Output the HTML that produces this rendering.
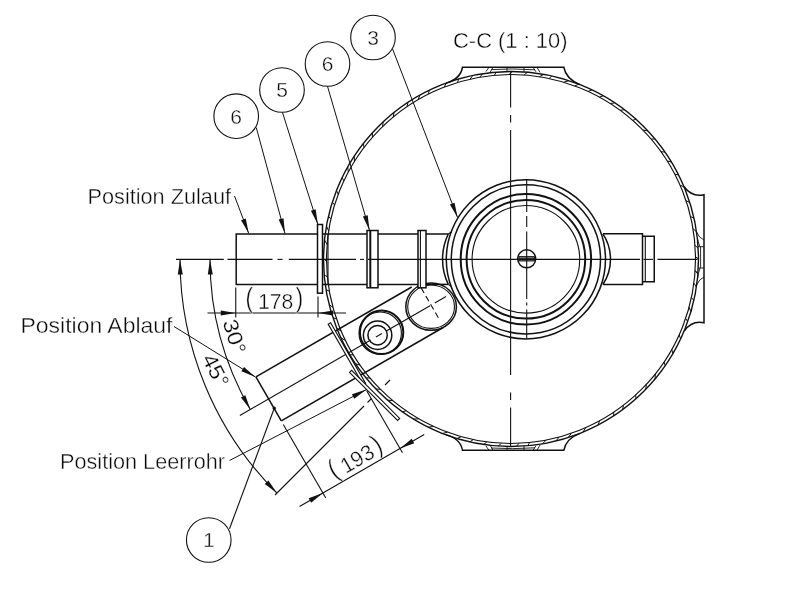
<!DOCTYPE html>
<html lang="de"><head><meta charset="utf-8"><title>C-C (1 : 10)</title>
<style>
html,body{margin:0;padding:0;background:#fff;}
body{width:800px;height:600px;overflow:hidden;}
svg{display:block;will-change:transform;}
svg text{font-family:"Liberation Sans","DejaVu Sans",sans-serif;fill:#0a0a0a;stroke:#fff;stroke-width:0.38px;paint-order:fill stroke;}
</style></head><body>
<svg width="800" height="600" viewBox="0 0 800 600" fill="none" stroke="#111" stroke-linecap="butt">
<rect x="0" y="0" width="800" height="600" fill="#fff" stroke="none"/>
<line x1="695.14" y1="270.57" x2="697.89" y2="274.14" stroke-width="1.0" />
<line x1="693.91" y1="283.15" x2="696.39" y2="287.05" stroke-width="1.0" />
<line x1="691.41" y1="297.62" x2="693.89" y2="300.34" stroke-width="1.0" />
<line x1="689.12" y1="307.12" x2="690.88" y2="311.9" stroke-width="1.0" />
<line x1="685.69" y1="318.35" x2="687.69" y2="321.75" stroke-width="1.0" />
<line x1="679.21" y1="334.79" x2="680.61" y2="338.92" stroke-width="1.0" />
<line x1="671.82" y1="349.42" x2="672.84" y2="353.67" stroke-width="1.0" />
<line x1="664.06" y1="362.02" x2="665.22" y2="365.64" stroke-width="1.0" />
<line x1="655.33" y1="373.93" x2="655" y2="379.08" stroke-width="1.0" />
<line x1="646.29" y1="384.45" x2="645.8" y2="389.32" stroke-width="1.0" />
<line x1="635.61" y1="395.06" x2="636.05" y2="398.71" stroke-width="1.0" />
<line x1="623.54" y1="405.2" x2="622.57" y2="409.69" stroke-width="1.0" />
<line x1="613.73" y1="412.26" x2="613.69" y2="415.88" stroke-width="1.0" />
<line x1="599.52" y1="420.88" x2="598.14" y2="425.02" stroke-width="1.0" />
<line x1="585.67" y1="427.71" x2="582.97" y2="432.14" stroke-width="1.0" />
<line x1="571.34" y1="433.36" x2="568.17" y2="437.57" stroke-width="1.0" />
<line x1="559.07" y1="437.13" x2="555.92" y2="441.04" stroke-width="1.0" />
<line x1="546.17" y1="440.12" x2="542.4" y2="443.85" stroke-width="1.0" />
<line x1="529.62" y1="442.56" x2="527.71" y2="445.75" stroke-width="1.0" />
<line x1="518.89" y1="443.33" x2="516.49" y2="446.42" stroke-width="1.0" />
<line x1="501.47" y1="443.25" x2="498.21" y2="446.06" stroke-width="1.0" />
<line x1="486.83" y1="441.91" x2="483.71" y2="444.5" stroke-width="1.0" />
<line x1="473.28" y1="439.6" x2="469.76" y2="441.91" stroke-width="1.0" />
<line x1="461.16" y1="436.64" x2="456.99" y2="438.55" stroke-width="1.0" />
<line x1="447.49" y1="432.22" x2="442.41" y2="433.5" stroke-width="1.0" />
<line x1="433.5" y1="426.43" x2="428.27" y2="427.26" stroke-width="1.0" />
<line x1="418.81" y1="418.81" x2="413.39" y2="419.09" stroke-width="1.0" />
<line x1="406.08" y1="410.76" x2="402.41" y2="411.86" stroke-width="1.0" />
<line x1="392.87" y1="400.73" x2="387.54" y2="400.12" stroke-width="1.0" />
<line x1="380.38" y1="389.3" x2="375.84" y2="388.95" stroke-width="1.0" />
<line x1="369.96" y1="377.95" x2="366.06" y2="377.95" stroke-width="1.0" />
<line x1="359.99" y1="365" x2="355.57" y2="363.86" stroke-width="1.0" />
<line x1="353.44" y1="355" x2="349.78" y2="354.73" stroke-width="1.0" />
<line x1="345.48" y1="340.51" x2="340.83" y2="337.72" stroke-width="1.0" />
<line x1="341.16" y1="331.08" x2="336.86" y2="328.5" stroke-width="1.0" />
<line x1="336.52" y1="318.98" x2="332.93" y2="317.72" stroke-width="1.0" />
<line x1="332.98" y1="307.48" x2="329.09" y2="304.42" stroke-width="1.0" />
<line x1="329.33" y1="291.21" x2="326.03" y2="289.68" stroke-width="1.0" />
<line x1="327.35" y1="276.74" x2="324.18" y2="274.95" stroke-width="1.0" />
<line x1="326.51" y1="261.32" x2="323.5" y2="258.53" stroke-width="1.0" />
<line x1="327.06" y1="244.58" x2="324.48" y2="239.84" stroke-width="1.0" />
<line x1="328.64" y1="230.95" x2="326.43" y2="225.98" stroke-width="1.0" />
<line x1="330.89" y1="219.01" x2="328.44" y2="216.25" stroke-width="1.0" />
<line x1="334.58" y1="205" x2="332.32" y2="202.17" stroke-width="1.0" />
<line x1="338.2" y1="194.35" x2="336.47" y2="190.47" stroke-width="1.0" />
<line x1="343.84" y1="180.92" x2="342.14" y2="177.5" stroke-width="1.0" />
<line x1="348.31" y1="171.97" x2="347.71" y2="166.85" stroke-width="1.0" />
<line x1="354.41" y1="161.42" x2="354.28" y2="156.07" stroke-width="1.0" />
<line x1="363.98" y1="147.53" x2="363.39" y2="143.38" stroke-width="1.0" />
<line x1="372.44" y1="137.18" x2="372.4" y2="132.72" stroke-width="1.0" />
<line x1="382.68" y1="126.44" x2="383.14" y2="121.85" stroke-width="1.0" />
<line x1="393.22" y1="116.99" x2="394.09" y2="112.41" stroke-width="1.0" />
<line x1="406.98" y1="106.62" x2="408.02" y2="102.31" stroke-width="1.0" />
<line x1="418.08" y1="99.61" x2="419.91" y2="95.11" stroke-width="1.0" />
<line x1="428.25" y1="94.1" x2="429.38" y2="90.2" stroke-width="1.0" />
<line x1="444.27" y1="86.99" x2="446.3" y2="83.02" stroke-width="1.0" />
<line x1="457.58" y1="82.4" x2="458.62" y2="78.97" stroke-width="1.0" />
<line x1="470.14" y1="79.08" x2="472.88" y2="75.42" stroke-width="1.0" />
<line x1="479.78" y1="77.16" x2="482.8" y2="73.63" stroke-width="1.0" />
<line x1="494.4" y1="75.25" x2="496.24" y2="72.08" stroke-width="1.0" />
<line x1="509.09" y1="74.51" x2="512.24" y2="71.5" stroke-width="1.0" />
<line x1="524.2" y1="74.97" x2="527.3" y2="72.21" stroke-width="1.0" />
<line x1="539.45" y1="76.71" x2="543.76" y2="74.38" stroke-width="1.0" />
<line x1="549.13" y1="78.48" x2="551.82" y2="76" stroke-width="1.0" />
<line x1="563.76" y1="82.2" x2="568.9" y2="80.66" stroke-width="1.0" />
<line x1="574.84" y1="85.9" x2="578.83" y2="84.2" stroke-width="1.0" />
<line x1="588.17" y1="91.42" x2="591.96" y2="89.88" stroke-width="1.0" />
<line x1="599.42" y1="97.07" x2="603.29" y2="95.79" stroke-width="1.0" />
<line x1="610.29" y1="103.5" x2="614.86" y2="102.89" stroke-width="1.0" />
<line x1="620.25" y1="110.33" x2="624.39" y2="109.67" stroke-width="1.0" />
<line x1="632.63" y1="120.27" x2="636.13" y2="119.36" stroke-width="1.0" />
<line x1="642.96" y1="130.06" x2="647.8" y2="130.77" stroke-width="1.0" />
<line x1="651.17" y1="139.03" x2="655.09" y2="139.02" stroke-width="1.0" />
<line x1="661.11" y1="151.72" x2="665.04" y2="152.1" stroke-width="1.0" />
<line x1="667.32" y1="161" x2="671.49" y2="162.05" stroke-width="1.0" />
<line x1="674.89" y1="174.27" x2="678.57" y2="174.88" stroke-width="1.0" />
<line x1="680.15" y1="185.33" x2="684.02" y2="186.74" stroke-width="1.0" />
<line x1="686.02" y1="200.61" x2="689.82" y2="202.62" stroke-width="1.0" />
<line x1="690.54" y1="216.52" x2="694" y2="218.18" stroke-width="1.0" />
<line x1="692.99" y1="228.65" x2="696.51" y2="231.78" stroke-width="1.0" />
<line x1="694.99" y1="245.31" x2="698.19" y2="248.22" stroke-width="1.0" />
<line x1="695.49" y1="256.77" x2="698.5" y2="259.01" stroke-width="1.0" />
<line x1="695.13" y1="270.68" x2="697.95" y2="273.33" stroke-width="1.0" />
<path d="M446,83.13 Q460.5,79 462.5,67.25 L563.8,67.25 Q566,79 580,84.66" stroke-width="1.5" />
<line x1="489" y1="67.25" x2="486" y2="71.5" stroke-width="0.9" />
<line x1="493" y1="67.25" x2="490" y2="72.5" stroke-width="0.9" />
<line x1="537" y1="67.25" x2="540" y2="72.5" stroke-width="0.9" />
<line x1="533" y1="67.25" x2="536" y2="71.8" stroke-width="0.9" />
<line x1="507" y1="67.25" x2="507" y2="71.6" stroke-width="0.9" />
<line x1="524" y1="67.25" x2="524" y2="71.8" stroke-width="0.9" />
<path d="M491,69.6 Q512,68.2 535,69.8" stroke-width="0.9" />
<path d="M446,434.87 Q460.5,438.5 462.5,450.3 L563.8,450.3 Q566,438.5 580,433.34" stroke-width="1.5" />
<line x1="489" y1="450.3" x2="486" y2="446" stroke-width="0.9" />
<line x1="493" y1="450.3" x2="490" y2="445" stroke-width="0.9" />
<line x1="537" y1="450.3" x2="540" y2="445" stroke-width="0.9" />
<line x1="533" y1="450.3" x2="536" y2="445.7" stroke-width="0.9" />
<line x1="507" y1="450.3" x2="507" y2="446" stroke-width="0.9" />
<line x1="524" y1="450.3" x2="524" y2="445.8" stroke-width="0.9" />
<path d="M491,448 Q512,449.4 535,447.8" stroke-width="0.9" />
<path d="M683.92,186.5 Q692,197.5 704,194.7 L704,322.7 Q692,320 684.12,331" stroke-width="1.5" />
<path d="M698,246.7 L704,246.7 M698,268 L704,268 M700.6,246.7 L700.6,268" stroke-width="0.9" />
<path d="M696.55,232 Q699,238 704,240 M696.69,285 Q699,279 704,277" stroke-width="0.9" />
<path d="M697.32,238 Q698,242 700,246.7 M697.43,279 Q698,274 700,268" stroke-width="0.9" />
<circle cx="525.9" cy="259.3" r="79.6" stroke-width="1.5" />
<circle cx="525.9" cy="259.3" r="74.6" stroke-width="1.5" />
<circle cx="525.9" cy="259.3" r="65.2" stroke-width="2.0" />
<circle cx="525.9" cy="259.3" r="59.3" stroke-width="2.0" />
<circle cx="525.9" cy="259.3" r="53.8" stroke-width="1.1" />
<path d="M448.3,234 A58,58 0 0 0 448.3,284.4" stroke-width="1.5" />
<path d="M602.9,233.9 A46,46 0 0 1 602.9,284.5" stroke-width="1.5" />
<circle cx="526.7" cy="258.8" r="9" stroke-width="1.5" />
<rect x="519" y="256.6" width="15.4" height="4.4" fill="#777" stroke="#111" stroke-width="0.9"/>
<line x1="519" y1="258.8" x2="534.4" y2="258.8" stroke-width="0.8" />
<path d="M317.5,234.0 L236.2,234.0 L236.2,284.4 L317.5,284.4" stroke-width="1.5" />
<line x1="322.5" y1="234" x2="367" y2="234" stroke-width="1.5" />
<line x1="322.5" y1="284.4" x2="367" y2="284.4" stroke-width="1.5" />
<line x1="378" y1="234" x2="418" y2="234" stroke-width="1.5" />
<line x1="378" y1="284.4" x2="418" y2="284.4" stroke-width="1.5" />
<line x1="426" y1="234" x2="448.3" y2="234" stroke-width="1.5" />
<line x1="426" y1="284.4" x2="448.3" y2="284.4" stroke-width="1.5" />
<line x1="448.3" y1="234" x2="451.6" y2="231.8" stroke-width="1.1" />
<line x1="448.3" y1="284.4" x2="451.6" y2="286.8" stroke-width="1.1" />
<line x1="328" y1="234" x2="328" y2="284.4" stroke-width="1.1" />
<rect x="317.5" y="224.5" width="5" height="68.7" fill="#fff" stroke="#111" stroke-width="1.5"/>
<path d="M602.9,233.75 L642.5,233.75 L642.5,284.5 L602.9,284.5" stroke-width="1.5" />
<path d="M642.5,236.25 L654.25,236.25 L654.25,281.75 L642.5,281.75" stroke-width="1.5" />
<line x1="645.3" y1="236.25" x2="645.3" y2="281.75" stroke-width="1.1" />
<line x1="255.9" y1="376.95" x2="281.3" y2="420.95" stroke-width="1.5" />
<line x1="255.9" y1="376.95" x2="411.7" y2="287" stroke-width="1.5" />
<line x1="281.3" y1="420.95" x2="443.16" y2="327.5" stroke-width="1.5" />
<line x1="239.93" y1="415.5" x2="370.7" y2="340" stroke-width="1.1" />
<line x1="375.9" y1="337" x2="381.96" y2="333.5" stroke-width="1.1" />
<line x1="386.29" y1="331" x2="430.03" y2="305.75" stroke-width="1.1" />
<line x1="434.79" y1="303" x2="446.05" y2="296.5" stroke-width="1.1" />
<ellipse cx="431.1" cy="306.7" rx="25.3" ry="23.6" stroke-width="1.5"/>
<ellipse cx="431.1" cy="306.7" rx="23.4" ry="21.7" stroke-width="1.1"/>
<line x1="421.1" y1="287.88" x2="439.6" y2="319.92" stroke-width="1.1" stroke-dasharray="6 3.5"/>
<rect x="367" y="230.5" width="11" height="57.3" fill="#fff" stroke="#111" stroke-width="1.5"/>
<line x1="370.3" y1="230.5" x2="370.3" y2="287.8" stroke-width="2.0" />
<rect x="418" y="230.5" width="8" height="57.3" fill="#fff" stroke="#111" stroke-width="1.5"/>
<line x1="420.4" y1="230.5" x2="420.4" y2="287.8" stroke-width="1.1" />
<circle cx="381.6" cy="332.3" r="21.7" stroke-width="2.0" />
<circle cx="380.2" cy="333.2" r="21.2" stroke-width="1.1" />
<circle cx="377.6" cy="335.2" r="14.2" stroke-width="1.5" />
<circle cx="377.6" cy="335.2" r="9.7" stroke-width="1.5" />
<polygon points="328.18,324.14 363.18,384.76 365.6,383.36 330.6,322.74" fill="#fff" stroke="#111" stroke-width="1.1"/>
<polygon points="349.5,372.42 397.58,420.5 399.7,418.38 351.62,370.3" fill="#fff" stroke="#111" stroke-width="1.1"/>
<circle cx="511" cy="259" r="187.5" stroke-width="1.4" />
<circle cx="511" cy="259" r="184.5" stroke-width="1.15" />
<line x1="176" y1="259.4" x2="223.8" y2="259.4" stroke-width="1.1" />
<line x1="227.5" y1="259.4" x2="272.5" y2="259.4" stroke-width="1.1" />
<line x1="277.5" y1="259.4" x2="282.5" y2="259.4" stroke-width="1.1" />
<line x1="288.8" y1="259.4" x2="356" y2="259.4" stroke-width="1.1" />
<line x1="360" y1="259.4" x2="364" y2="259.4" stroke-width="1.1" />
<line x1="368" y1="259.4" x2="640" y2="259.4" stroke-width="1.1" />
<line x1="643.5" y1="259.4" x2="653" y2="259.4" stroke-width="1.1" />
<line x1="657.5" y1="259.4" x2="697.5" y2="259.4" stroke-width="1.1" />
<line x1="510.6" y1="72" x2="510.6" y2="107.5" stroke-width="1.1" />
<line x1="510.6" y1="115" x2="510.6" y2="122.5" stroke-width="1.1" />
<line x1="510.6" y1="130" x2="510.6" y2="375" stroke-width="1.1" />
<line x1="510.6" y1="392.5" x2="510.6" y2="400" stroke-width="1.1" />
<line x1="510.6" y1="407.5" x2="510.6" y2="446.5" stroke-width="1.1" />
<line x1="526.7" y1="179" x2="526.7" y2="212" stroke-width="1.1" />
<line x1="526.7" y1="216" x2="526.7" y2="227" stroke-width="1.1" />
<line x1="526.7" y1="231.5" x2="526.7" y2="299" stroke-width="1.1" />
<line x1="526.7" y1="302.5" x2="526.7" y2="305.5" stroke-width="1.1" />
<line x1="526.7" y1="309.5" x2="526.7" y2="339" stroke-width="1.1" />
<line x1="207.5" y1="313" x2="346" y2="313" stroke-width="1.1" />
<line x1="235.75" y1="287.5" x2="235.75" y2="317.5" stroke-width="1.1" />
<line x1="318" y1="296.5" x2="318" y2="317.5" stroke-width="1.1" />
<polygon points="235.75,313 220.75,315.5 220.75,310.5" fill="#111" stroke="none"/>
<polygon points="318,313 333,310.5 333,315.5" fill="#111" stroke="none"/>
<path d="M210,259 A301,301 0 0 0 250.33,409.5" stroke-width="1.1" />
<polygon points="210,259.5 212.8,274.45 207.8,274.55" fill="#111" stroke="none"/>
<polygon points="250.33,409.5 240.95,397.53 245.34,395.13" fill="#111" stroke="none"/>
<path d="M180,259 A331,331 0 0 0 276.95,493.05" stroke-width="1.1" />
<polygon points="180,259.5 182.8,274.45 177.8,274.55" fill="#111" stroke="none"/>
<polygon points="276.95,493.05 264.79,483.91 268.41,480.47" fill="#111" stroke="none"/>
<line x1="275" y1="495" x2="364" y2="406" stroke-width="1.1" />
<line x1="367.5" y1="402.5" x2="371.5" y2="398.5" stroke-width="1.1" />
<line x1="385" y1="385" x2="390" y2="380" stroke-width="1.1" />
<line x1="283.3" y1="424.41" x2="325.8" y2="498.02" stroke-width="1.1" />
<line x1="366.68" y1="390.82" x2="402.43" y2="452.74" stroke-width="1.1" />
<line x1="299.52" y1="506.5" x2="424.22" y2="434.5" stroke-width="1.1" />
<polygon points="322.9,493 311.16,502.67 308.66,498.34" fill="#111" stroke="none"/>
<polygon points="399.98,448.5 411.72,438.84 414.22,443.17" fill="#111" stroke="none"/>
<circle cx="236.2" cy="116.2" r="22.3" stroke-width="1.1" fill="#fff"/>
<text x="236.2" y="123.6" font-size="21" text-anchor="middle">6</text>
<circle cx="282" cy="90" r="22.3" stroke-width="1.1" fill="#fff"/>
<text x="282" y="97.4" font-size="21" text-anchor="middle">5</text>
<circle cx="327.5" cy="64" r="22.3" stroke-width="1.1" fill="#fff"/>
<text x="327.5" y="71.4" font-size="21" text-anchor="middle">6</text>
<circle cx="373" cy="37.5" r="22.3" stroke-width="1.1" fill="#fff"/>
<text x="373" y="44.9" font-size="21" text-anchor="middle">3</text>
<circle cx="208.75" cy="540" r="22.3" stroke-width="1.1" fill="#fff"/>
<text x="208.75" y="547.4" font-size="21" text-anchor="middle">1</text>
<line x1="256.25" y1="127.5" x2="285" y2="233.4" stroke-width="1" />
<polygon points="285,233.4 278.66,219.58 283.48,218.27" fill="#111" stroke="none"/>
<line x1="282.5" y1="112.5" x2="317.8" y2="224.3" stroke-width="1" />
<polygon points="317.8,224.3 310.9,210.75 315.67,209.24" fill="#111" stroke="none"/>
<line x1="327.5" y1="86.3" x2="369.5" y2="230.3" stroke-width="1" />
<polygon points="369.5,230.3 362.9,216.6 367.7,215.2" fill="#111" stroke="none"/>
<line x1="392.5" y1="48.8" x2="457.6" y2="217.6" stroke-width="1" />
<polygon points="457.6,217.6 449.87,204.5 454.54,202.71" fill="#111" stroke="none"/>
<line x1="229.5" y1="528.8" x2="274.25" y2="408.25" stroke-width="1.1" />
<circle cx="274.25" cy="408.25" r="1.4" stroke-width="0.5" fill="#111"/>
<line x1="234.5" y1="196" x2="248.75" y2="233.5" stroke-width="1" />
<polygon points="248.75,233.5 241.08,220.37 245.76,218.59" fill="#111" stroke="none"/>
<line x1="174" y1="326.5" x2="255.4" y2="376.95" stroke-width="1" />
<polygon points="255.4,376.95 241.33,371.18 243.97,366.93" fill="#111" stroke="none"/>
<line x1="229.5" y1="460.5" x2="366.4" y2="389.6" stroke-width="1" />
<polygon points="366.4,389.6 354.23,398.72 351.93,394.28" fill="#111" stroke="none"/>
<text x="87.5" y="204" font-size="22" textLength="143.5" lengthAdjust="spacingAndGlyphs" >Position Zulauf</text>
<text x="20.5" y="332.5" font-size="22" textLength="152" lengthAdjust="spacingAndGlyphs" >Position Ablauf</text>
<text x="60" y="468.8" font-size="22" textLength="165" lengthAdjust="spacingAndGlyphs" >Position Leerrohr</text>
<text x="453" y="48" font-size="22" textLength="114.5" lengthAdjust="spacingAndGlyphs" >C-C (1 : 10)</text>
<text transform="translate(245.6,308.7)" font-size="21.8"><tspan x="0" y="-1.5" font-size="27" textLength="7.4" lengthAdjust="spacingAndGlyphs">(</tspan><tspan x="12.3" y="0" textLength="35.3" lengthAdjust="spacingAndGlyphs">178</tspan><tspan x="50.2" y="-1.5" font-size="27" textLength="7.4" lengthAdjust="spacingAndGlyphs">)</tspan></text>
<text transform="translate(222.5,322) rotate(73)" font-size="21" textLength="35" lengthAdjust="spacingAndGlyphs" style="stroke-width:0.2px">30°</text>
<text transform="translate(201.5,358.5) rotate(63)" font-size="21" textLength="34.5" lengthAdjust="spacingAndGlyphs" style="stroke-width:0.2px">45°</text>
<text transform="translate(335.0,480.2) rotate(-30)" font-size="21.8"><tspan x="0" y="-1.5" font-size="27" textLength="7.4" lengthAdjust="spacingAndGlyphs">(</tspan><tspan x="12.3" y="0" textLength="35.3" lengthAdjust="spacingAndGlyphs">193</tspan><tspan x="50.2" y="-1.5" font-size="27" textLength="7.4" lengthAdjust="spacingAndGlyphs">)</tspan></text>
</svg>
</body></html>
